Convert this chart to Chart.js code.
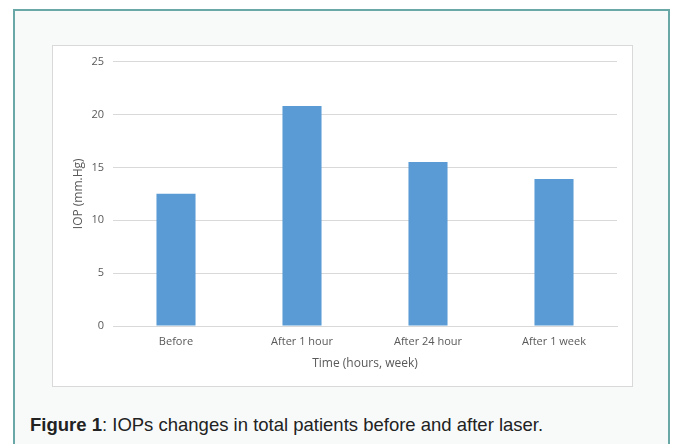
<!DOCTYPE html>
<html><head><meta charset="utf-8">
<script src="https://cdn.jsdelivr.net/npm/chart.js@4"></script>
<style>
html,body{margin:0;padding:0;background:#fff;width:677px;height:444px;overflow:hidden}
#panel{position:absolute;left:13px;top:9px;width:657px;height:440px;border:2px solid #6aa8a8;background:#f8fafa;box-sizing:border-box}
#box{position:absolute;left:52px;top:45px;width:581px;height:342px;border:1.5px solid #d9d9d9;background:#fff;box-sizing:border-box}
#wrap{position:absolute;left:0;top:0;width:578px;height:339px}
#cap{position:absolute;left:30px;top:414px;line-height:21px;font-family:"Liberation Sans",Arial,sans-serif;font-size:18.5px;color:#222;white-space:nowrap}
</style></head><body>
<div id="panel"></div>
<div id="box"><div id="wrap"><canvas id="c"></canvas></div></div>
<div id="cap"><b>Figure 1</b>: IOPs changes in total patients before and after laser.</div>
<script>
const categories = ["Before","After 1 hour","After 24 hour","After 1 week"];
const iopValues = [12.5, 20.8, 15.5, 13.9];
const yTicks = [0,5,10,15,20,25];

const fam = "'Open Sans', sans-serif";
const tickFont = {family:fam, size:11};
const titleFont = {family:fam, size:12};
new Chart(document.getElementById('c'), {
  type:'bar',
  data:{labels:categories, datasets:[{data:iopValues, backgroundColor:'#5b9bd5', barPercentage:0.31, categoryPercentage:1}]},
  options:{
    responsive:true, maintainAspectRatio:false, animation:false,
    plugins:{legend:{display:false}, tooltip:{enabled:false}},
    layout:{padding:{left:18, right:14, top:14, bottom:10}},
    scales:{
      y:{min:0,max:25,
        afterBuildTicks:a=>{a.ticks=yTicks.map(v=>({value:v}));},
        afterFit:a=>{a.width=42;},
        grid:{color:'#d9d9d9', drawTicks:false},
        border:{display:false},
        ticks:{color:'#595959', font:tickFont, padding:9},
        title:{display:true, text:'IOP (mm.Hg)', color:'#595959', font:titleFont, padding:0}
      },
      x:{
        afterFit:a=>{a.height=49;},
        grid:{display:false, drawTicks:false},
        border:{color:'#d9d9d9'},
        ticks:{color:'#595959', font:tickFont, padding:9, maxRotation:0},
        title:{display:true, text:'Time (hours, week)', color:'#595959', font:titleFont, padding:{top:0,bottom:4}}
      }
    }
  }
});
</script>
</body></html>
